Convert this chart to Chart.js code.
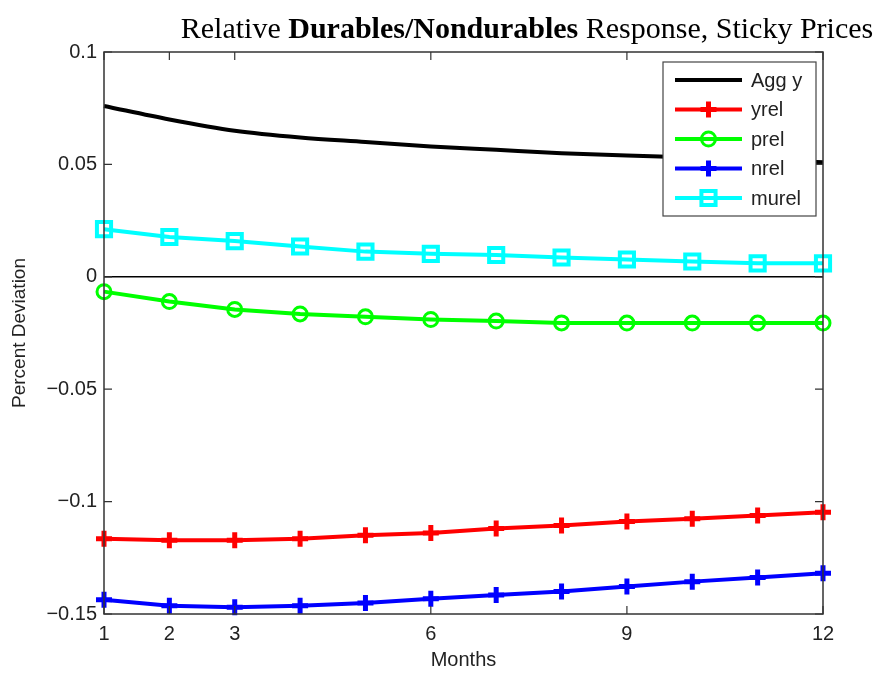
<!DOCTYPE html>
<html>
<head>
    <title>Relative Durables/Nondurables Response</title>
    <script src="https://cdn.jsdelivr.net/npm/chart.js"></script>
    <style>
        html, body { margin: 0; padding: 0; background: #fff; }
        #wrap { width: 875px; height: 675px; }
    </style>
</head>
<body>
    <div id="wrap"><canvas id="myChart" width="875" height="675"></canvas></div>

    <script>
        const months = [1, 2, 3, 4, 5, 6, 7, 8, 9, 10, 11, 12];
        const xTicks = [1, 2, 3, 6, 9, 12];
        const yTicks = [0.1, 0.05, 0, -0.05, -0.1, -0.15];
        const yTickLabels = ['0.1', '0.05', '0', '\u22120.05', '\u22120.1', '\u22120.15'];

        const aggY  = [0.076, 0.070, 0.065, 0.062, 0.060, 0.058, 0.0565, 0.055, 0.054, 0.053, 0.052, 0.051];
        const yrel  = [-0.1165, -0.1172, -0.1172, -0.1165, -0.1150, -0.1140, -0.1120, -0.1106, -0.1088, -0.1076, -0.1062, -0.1047];
        const prel  = [-0.0066, -0.0110, -0.0145, -0.0165, -0.0178, -0.0190, -0.0197, -0.0205, -0.0206, -0.0206, -0.0206, -0.0206];
        const nrel  = [-0.1437, -0.1463, -0.1470, -0.1463, -0.1451, -0.1432, -0.1415, -0.1400, -0.1378, -0.1356, -0.1338, -0.1319];
        const murel = [0.0212, 0.0177, 0.0159, 0.0135, 0.0112, 0.0102, 0.0097, 0.0086, 0.0077, 0.0068, 0.0060, 0.0060];

        const pts = arr => arr.map((v, i) => ({ x: months[i], y: v }));
        const axisColor = '#333';
        const sans = "'Liberation Sans', Arial, sans-serif";

        // MATLAB style: boxed axes, inward ticks, zero line, legend inside
        const matlabAxes = {
            id: 'matlabAxes',
            beforeDatasetsDraw(chart) {
                const { ctx, chartArea: a, scales } = chart;
                const y0 = scales.y.getPixelForValue(0);
                ctx.save();
                ctx.strokeStyle = '#000';
                ctx.lineWidth = 1.5;
                ctx.beginPath();
                ctx.moveTo(a.left, y0);
                ctx.lineTo(a.right, y0);
                ctx.stroke();
                ctx.restore();
            },
            afterDatasetsDraw(chart) {
                const { ctx, chartArea: a, scales } = chart;
                const tl = 8;
                ctx.save();
                ctx.strokeStyle = axisColor;
                ctx.lineWidth = 1.5;
                ctx.strokeRect(a.left, a.top, a.right - a.left, a.bottom - a.top);
                ctx.lineWidth = 1.2;
                ctx.beginPath();
                xTicks.forEach(v => {
                    const x = scales.x.getPixelForValue(v);
                    ctx.moveTo(x, a.bottom); ctx.lineTo(x, a.bottom - tl);
                    ctx.moveTo(x, a.top); ctx.lineTo(x, a.top + tl);
                });
                yTicks.forEach(v => {
                    const y = scales.y.getPixelForValue(v);
                    ctx.moveTo(a.left, y); ctx.lineTo(a.left + tl, y);
                    ctx.moveTo(a.right, y); ctx.lineTo(a.right - tl, y);
                });
                ctx.stroke();

                // legend
                const bw = 153, bh = 154;
                const bx = a.right - 7 - bw, by = a.top + 10;
                ctx.fillStyle = '#fff';
                ctx.fillRect(bx, by, bw, bh);
                ctx.strokeStyle = '#444';
                ctx.lineWidth = 1.2;
                ctx.strokeRect(bx, by, bw, bh);
                ctx.font = '20px ' + sans;
                ctx.textBaseline = 'middle';
                chart.data.datasets.forEach((ds, i) => {
                    const ry = by + 18 + i * 29.5;
                    const x1 = bx + 12, x2 = bx + 79, xm = (x1 + x2) / 2;
                    ctx.strokeStyle = ds.borderColor;
                    ctx.lineWidth = 4;
                    ctx.beginPath();
                    ctx.moveTo(x1, ry); ctx.lineTo(x2, ry);
                    ctx.stroke();
                    if (ds.pointRadius > 0) {
                        ctx.strokeStyle = ds.pointBorderColor || ds.borderColor;
                        ctx.lineWidth = ds.pointBorderWidth;
                        const r = ds.pointRadius;
                        ctx.beginPath();
                        if (ds.pointStyle === 'cross') {
                            ctx.moveTo(xm, ry - r); ctx.lineTo(xm, ry + r);
                            ctx.moveTo(xm - r, ry); ctx.lineTo(xm + r, ry);
                        } else if (ds.pointStyle === 'circle') {
                            ctx.arc(xm, ry, r, 0, Math.PI * 2);
                        } else if (ds.pointStyle === 'rect') {
                            const s = r * Math.SQRT1_2;
                            ctx.rect(xm - s, ry - s, 2 * s, 2 * s);
                        }
                        ctx.stroke();
                    }
                    ctx.fillStyle = '#222';
                    ctx.textAlign = 'left';
                    ctx.fillText(ds.label, bx + 88, ry + 1);
                });
                ctx.restore();
            },
            afterDraw(chart) {
                const { ctx } = chart;
                const parts = [
                    ['Relative ', 'normal'],
                    ['Durables/Nondurables', 'bold'],
                    [' Response, Sticky Prices', 'normal']
                ];
                ctx.save();
                ctx.fillStyle = '#000';
                ctx.textBaseline = 'alphabetic';
                ctx.textAlign = 'left';
                let total = 0;
                parts.forEach(p => {
                    ctx.font = p[1] + " 30px 'Liberation Serif', 'Times New Roman', serif";
                    total += ctx.measureText(p[0]).width;
                });
                let x = 527 - total / 2;
                parts.forEach(p => {
                    ctx.font = p[1] + " 30px 'Liberation Serif', 'Times New Roman', serif";
                    ctx.fillText(p[0], x, 38);
                    x += ctx.measureText(p[0]).width;
                });
                ctx.restore();
            }
        };

        const ctx = document.getElementById('myChart').getContext('2d');
        const myChart = new Chart(ctx, {
            type: 'line',
            data: {
                datasets: [
                    { label: 'Agg y', data: pts(aggY), borderColor: '#000', borderWidth: 4,
                      pointRadius: 0, cubicInterpolationMode: 'monotone', clip: false },
                    { label: 'yrel', data: pts(yrel), borderColor: '#ff0000', borderWidth: 4,
                      pointStyle: 'cross', pointRadius: 8, pointBorderWidth: 5, clip: false },
                    { label: 'prel', data: pts(prel), borderColor: '#00ff00', borderWidth: 4,
                      pointStyle: 'circle', pointRadius: 7, pointBorderWidth: 3,
                      pointBackgroundColor: 'rgba(0,0,0,0)', clip: false },
                    { label: 'nrel', data: pts(nrel), borderColor: '#0000ff', borderWidth: 4,
                      pointStyle: 'cross', pointRadius: 8, pointBorderWidth: 5, clip: false },
                    { label: 'murel', data: pts(murel), borderColor: '#00ffff', borderWidth: 4,
                      pointStyle: 'rect', pointRadius: 10, pointBorderWidth: 4,
                      pointBackgroundColor: 'rgba(0,0,0,0)', clip: false }
                ]
            },
            options: {
                responsive: false,
                animation: false,
                layout: { padding: { top: 52, right: 52, bottom: 3, left: 0 } },
                plugins: {
                    legend: { display: false },
                    title: { display: false },
                    tooltip: { enabled: false }
                },
                elements: { point: { hoverRadius: 0 } },
                scales: {
                    x: {
                        type: 'linear', min: 1, max: 12,
                        afterBuildTicks: s => { s.ticks = xTicks.map(v => ({ value: v })); },
                        afterFit: s => { s.height = 58; },
                        grid: { display: false, drawTicks: false },
                        border: { display: false },
                        ticks: { padding: 8, color: '#222', font: { family: sans, size: 20 }, maxRotation: 0 },
                        title: { display: true, text: 'Months', color: '#222',
                                 font: { family: sans, size: 20 }, padding: 0 }
                    },
                    y: {
                        type: 'linear', min: -0.15, max: 0.1,
                        afterBuildTicks: s => { s.ticks = yTicks.map(v => ({ value: v })); },
                        afterFit: s => { s.width = 104; },
                        grid: { display: false, drawTicks: false },
                        border: { display: false },
                        ticks: {
                            padding: 7, color: '#222', font: { family: sans, size: 20 },
                            callback: v => yTickLabels[yTicks.indexOf(v)] ?? ''
                        },
                        title: { display: true, text: 'Percent Deviation', color: '#222',
                                 font: { family: sans, size: 19 }, padding: { top: 8, bottom: 0 } }
                    }
                }
            },
            plugins: [matlabAxes]
        });
    </script>
</body>
</html>
